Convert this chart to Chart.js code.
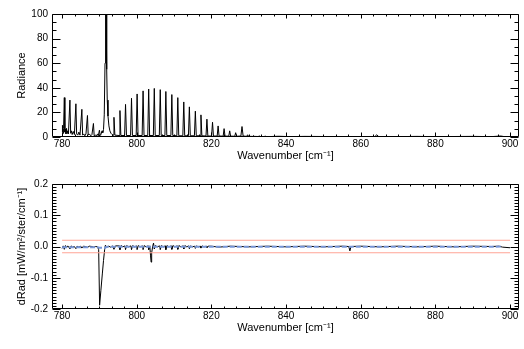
<!DOCTYPE html>
<html><head><meta charset="utf-8">
<script src="https://cdn.jsdelivr.net/npm/chart.js@4/dist/chart.umd.min.js"></script>
<style>
html,body{margin:0;padding:0;background:#fff;width:524px;height:349px;overflow:hidden}
canvas{position:absolute;left:0}
</style></head><body>
<canvas id="top" width="524" height="170" style="top:0"></canvas>
<canvas id="bot" width="524" height="179" style="top:170px"></canvas>
<script>
// ---------- data ----------
const xTicks = [780, 800, 820, 840, 860, 880, 900];
const radTicks = [0, 20, 40, 60, 80, 100];
const dradTicks = [-0.2, -0.1, 0.0, 0.1, 0.2];

const radWavenumber = [
 780.0,780.1,780.25,780.4,780.6,780.75,780.9,781.05,781.2,781.35,781.5,781.7,
 782.1,782.3,782.5,782.7,783.0,783.3,783.7,783.9,784.2,784.5,784.8,
 785.3,785.5,785.8,786.1,786.4,786.8,787.0,787.3,787.7,788.0,
 788.4,788.6,788.9,789.2,789.5,789.7,790.0,790.2,790.4,790.7,790.9,791.1,
 791.3,791.5,791.65,791.8,791.95,792.1,792.3,792.55,792.8,793.1,793.4,793.65,
 793.9,794.15,
 795.25,795.5,795.75, 796.75,797.0,797.25, 798.35,798.6,798.85,
 799.85,800.1,800.35, 801.45,801.7,801.95, 802.95,803.2,803.45,
 804.45,804.7,804.95, 806.05,806.3,806.55, 807.55,807.8,808.05,
 809.15,809.4,809.65, 810.75,811.0,811.25, 812.35,812.6,812.85,
 813.85,814.1,814.35, 815.45,815.7,815.95, 816.95,817.2,817.45,
 818.55,818.8,819.05, 820.05,820.3,820.55, 821.55,821.8,822.05,
 823.15,823.4,823.65, 824.65,824.9,825.15, 826.25,826.5,826.75,
 827.9,828.2,828.5, 829.45,829.7,829.95, 831.05,831.3,831.55,
 832.55,832.8,833.05, 834.15,834.4,834.65,
 836.0,838.0,841.0,845.0,850.0,855.0,860.0,863.8,864.3,864.8,
 870.0,875.0,880.0,885.0,890.0,895.0,897.5,898.5,900.0
];
const radValue = [
 4,9.5,3,7,32,4,6.5,2.5,7,3,5,2.5,
 30,3,5,2,4.5,2,27,2.5,1.5,4,1.5,
 22.5,1.5,2.5,1,2.5,17.5,1.5,2.5,1,2,
 11,1,1.5,0.8,2.5,1,5.5,1.5,2,5,3.5,6,
 18,60,104,104,55,30,17,9,5,3,2,1.5,
 16,1.5,
 1.2,21.5,1.2, 1.2,26.5,1.2, 1.2,31.5,1.2,
 1.2,35,1.2, 1.2,37.5,1.2, 1.2,39,1.2,
 1.2,39.5,1.2, 1.2,38.5,1.2, 1.2,37,1.2,
 1.2,34.5,1.2, 1,32,1, 1,28.5,1,
 1,24.5,1, 1,21,1, 1,18,1,
 0.8,14.5,0.8, 0.8,12,0.8, 0.8,9,0.8,
 0.7,6.8,0.7, 0.7,5,0.7, 0.6,3.5,0.6,
 0.8,8.5,0.8, 0.5,1.8,0.5, 0.5,1.2,0.5,
 0.4,0.9,0.4, 0.4,0.7,0.4,
 0.4,0.6,0.3,0.5,0.4,0.3,0.4,0.4,1.8,0.4,
 0.3,0.5,0.3,0.4,0.5,0.3,0.8,0.3,0.3
];

const dradWavenumber = [
 780.0,780.3,780.6,780.9,781.2,781.5,781.8,782.1,782.4,782.8,783.2,783.7,784.0,
 784.5,785.0,785.3,785.7,786.2,786.8,787.3,788.0,788.4,789.0,789.5,789.8,
 790.05,790.4,790.8,791.1,791.4,791.6,792.0,792.5,793.0,793.5,793.9,794.3,
 795.35,795.5,795.8,796.3, 796.85,797.0,797.3,797.8, 798.45,798.6,798.9,799.4,
 799.95,800.1,800.4,800.9, 801.55,801.7,802.0,802.5, 803.05,803.2,803.5,
 803.7,803.85,804.0,804.3,804.5,804.7,805.0,805.5,
 806.15,806.3,806.6,807.1, 807.65,807.8,808.1,808.6, 809.25,809.4,809.7,810.2,
 810.85,811.0,811.3,811.8, 812.45,812.6,812.9,813.4, 813.95,814.1,814.4,814.9,
 815.55,815.7,816.0,816.5, 817.05,817.2,817.5,818.0, 818.65,818.8,819.1,
 820.0,822.0,825.0,830.0,835.0,840.0,845.0,850.0,855.0,856.8,857.1,857.4,
 860.0,865.0,870.0,875.0,880.0,885.0,890.0,895.0,897.0,898.0,900.0
];
const dradValue = [
 -0.006,0.002,-0.009,0.003,-0.004,0.002,-0.002,-0.008,0.002,-0.002,0.001,-0.007,0.001,
 -0.002,0.001,-0.005,0.001,0.0,-0.003,0.001,0.0,-0.002,0.0,-0.001,-0.01,
 -0.188,-0.14,-0.085,-0.045,-0.01,0.004,-0.002,0.001,-0.002,0.002,-0.009,0.002,
 0.002,-0.01,0.003,-0.001, 0.002,-0.01,0.003,-0.001, 0.002,-0.01,0.003,-0.001,
 0.002,-0.01,0.003,-0.001, 0.002,-0.01,0.003,-0.001, 0.002,-0.01,0.002,
 -0.03,-0.05,-0.02,0.002,0.011,-0.008,0.003,-0.001,
 0.002,-0.01,0.003,-0.001, 0.002,-0.01,0.003,-0.001, 0.002,-0.009,0.003,-0.001,
 0.002,-0.009,0.003,-0.001, 0.002,-0.008,0.003,-0.001, 0.002,-0.007,0.002,-0.001,
 0.001,-0.006,0.002,-0.001, 0.001,-0.005,0.002,-0.001, 0.001,-0.004,0.001,
 0.001,-0.002,0.001,-0.001,0.001,-0.001,0.001,-0.001,0.001,0.0,-0.014,0.0,
 0.001,-0.001,0.001,-0.001,0.001,-0.001,0.001,0.0,0.001,-0.002,-0.004
];

const blueWavenumber = [780, 789.5, 790.0, 791.5, 792.0, 818, 840, 860, 880, 895, 898];
const blueValue = [-0.002, -0.002, -0.004, -0.004, -0.001, -0.001, -0.001, -0.001, -0.001, -0.001, 0.0];

const limitWavenumber = [780, 900];
const upperLimit = [0.02, 0.02];
const lowerLimit = [-0.02, -0.02];

// ---------- helpers ----------
const pts = (xs, ys) => xs.map((x, i) => ({x: x, y: ys[i]}));
const FAMILY = "'Liberation Sans', Arial, Helvetica, sans-serif";
const tickFont = {family: FAMILY, size: 10};
const titleFont = {family: FAMILY, size: 11};

function framePlugin(xMinorN, yStep, yMinorN) {
  return {
    id: 'frame',
    afterDatasetsDraw(chart) {
      const ctx = chart.ctx, a = chart.chartArea;
      const xs = chart.scales.x, ys = chart.scales.y;
      const L = Math.round(a.left) + 0.5, R = Math.round(a.right) - 0.5;
      const T = Math.round(a.top) + 0.5, B = Math.round(a.bottom) - 0.5;
      ctx.save();
      ctx.strokeStyle = '#000';
      ctx.lineWidth = 1;
      ctx.beginPath();
      ctx.rect(L, T, R - L, B - T);
      const xStep = xTicks[1] - xTicks[0];
      for (let i = -xMinorN; i <= (xTicks.length - 1) * xMinorN + xMinorN; i++) {
        const v = xTicks[0] + i * xStep / xMinorN;
        if (v < xs.min - 1e-9 || v > xs.max + 1e-9) continue;
        const len = (i % xMinorN === 0) ? 4 : 2;
        const px = Math.round(xs.getPixelForValue(v)) + 0.5;
        ctx.moveTo(px, B); ctx.lineTo(px, B - len);
        ctx.moveTo(px, T); ctx.lineTo(px, T + len);
      }
      const y0 = ys.min;
      const nY = Math.round((ys.max - ys.min) / yStep * yMinorN);
      for (let i = 0; i <= nY; i++) {
        const v = y0 + i * yStep / yMinorN;
        const len = (i % yMinorN === 0) ? 8 : 4;
        const py = Math.round(ys.getPixelForValue(v)) + 0.5;
        ctx.moveTo(L, py); ctx.lineTo(L + len, py);
        ctx.moveTo(R, py); ctx.lineTo(R - len, py);
      }
      ctx.stroke();
      ctx.restore();
    }
  };
}

function xScale() {
  return {
    type: 'linear', min: 777.3, max: 902.4,
    grid: {display: false, drawTicks: false}, border: {display: false},
    afterBuildTicks: s => { s.ticks = xTicks.map(v => ({value: v})); },
    afterFit: s => { s.height = 26; },
    ticks: {font: tickFont, color: '#000', padding: 1, maxRotation: 0, autoSkip: false,
            callback: v => String(v)},
    title: {display: true, text: 'Wavenumber [cm⁻¹]', font: titleFont, color: '#000', padding: 0}
  };
}

// ---------- top panel ----------
new Chart(document.getElementById('top'), {
  type: 'line',
  data: {datasets: [{
    data: pts(radWavenumber, radValue), borderColor: '#000', borderWidth: 1,
    pointRadius: 0, tension: 0, clip: 0
  }]},
  options: {
    responsive: false, animation: false, events: [],
    layout: {padding: {top: 14, right: 5, bottom: 7, left: 0}},
    plugins: {legend: {display: false}, tooltip: {enabled: false}},
    scales: {
      x: xScale(),
      y: {
        type: 'linear', min: 0, max: 100,
        grid: {display: false, drawTicks: false}, border: {display: false},
        afterBuildTicks: s => { s.ticks = radTicks.map(v => ({value: v})); },
        afterFit: s => { s.width = 52; },
        ticks: {font: tickFont, color: '#000', padding: 4, callback: v => String(v)},
        title: {display: true, text: 'Radiance', font: titleFont, color: '#000', padding: {top: 15}}
      }
    }
  },
  plugins: [framePlugin(6, 20, 3)]
});

// ---------- bottom panel ----------
new Chart(document.getElementById('bot'), {
  type: 'line',
  data: {datasets: [
    {data: pts(limitWavenumber, upperLimit), borderColor: 'rgb(255,165,150)', borderWidth: 1, pointRadius: 0, clip: 0},
    {data: pts(limitWavenumber, lowerLimit), borderColor: 'rgb(255,165,150)', borderWidth: 1, pointRadius: 0, clip: 0},
    {data: pts(blueWavenumber, blueValue), borderColor: 'rgb(120,150,215)', borderWidth: 2, borderDash: [5, 2], pointRadius: 0, clip: 0},
    {data: pts(dradWavenumber, dradValue), borderColor: '#000', borderWidth: 1, pointRadius: 0, tension: 0, clip: 0}
  ]},
  options: {
    responsive: false, animation: false, events: [],
    layout: {padding: {top: 14, right: 5, bottom: 14, left: 0}},
    plugins: {legend: {display: false}, tooltip: {enabled: false}},
    scales: {
      x: xScale(),
      y: {
        type: 'linear', min: -0.2, max: 0.2,
        grid: {display: false, drawTicks: false}, border: {display: false},
        afterBuildTicks: s => { s.ticks = dradTicks.map(v => ({value: v})); },
        afterFit: s => { s.width = 52; },
        ticks: {font: tickFont, color: '#000', padding: 4, callback: v => Number(v).toFixed(1)},
        title: {display: true, text: 'dRad [mW/m²/ster/cm⁻¹]', font: titleFont, color: '#000', padding: {top: 15}}
      }
    }
  },
  plugins: [framePlugin(6, 0.1, 10)]
});
</script>
</body></html>
